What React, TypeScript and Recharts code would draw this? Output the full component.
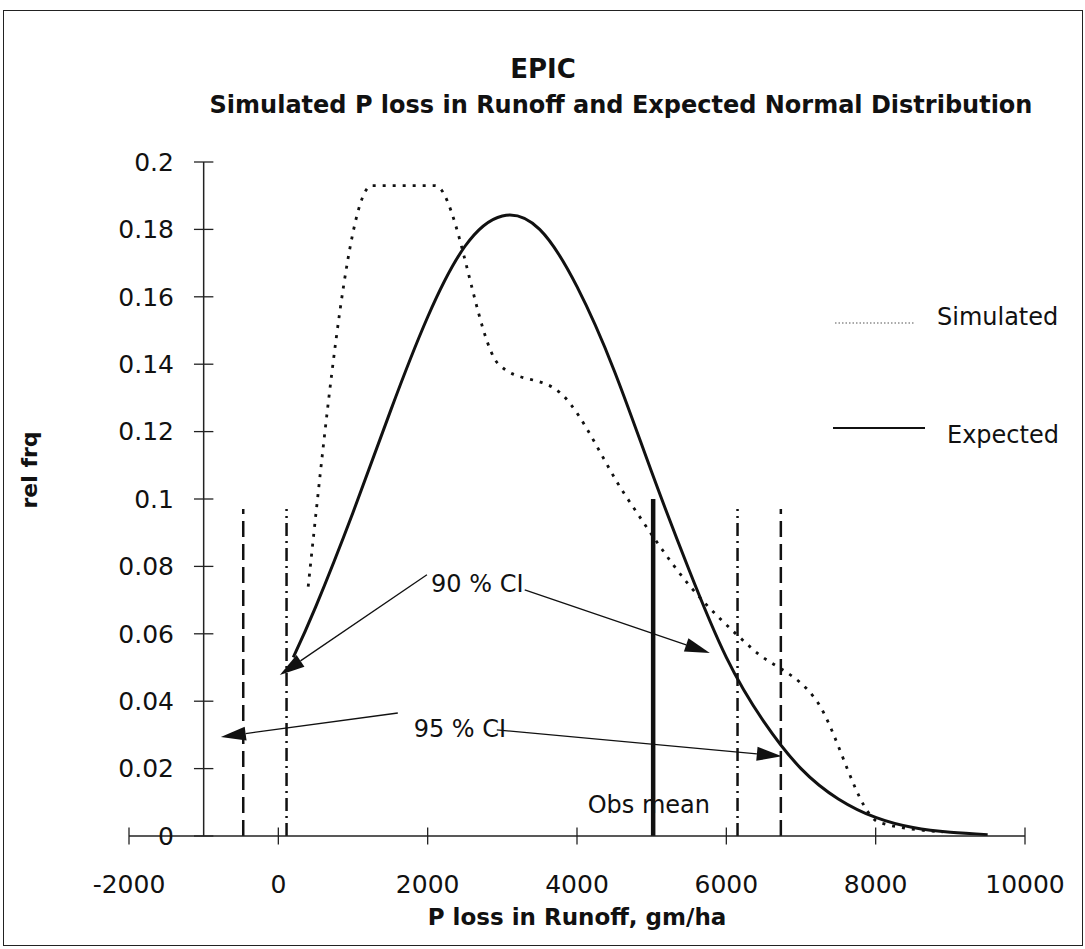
import React from "react";
import { ComposedChart, Line, XAxis, YAxis, ReferenceLine, ReferenceDot, Legend } from "recharts";

const FONT = "'DejaVu Sans', Verdana, sans-serif";
const INK = "#111";

// simulated P loss frequencies (class midpoints)
const simX = [400, 1250, 2100, 2950, 3800, 4650, 5500, 6350, 7200, 8050, 8900];
const simY = [0.074, 0.193, 0.193, 0.14, 0.131, 0.101, 0.0745, 0.0555, 0.0404, 0.004, 0.0012];

// expected normal curve
const expX = [200, 500, 1000, 1500, 2000, 2500, 3000, 3500, 4000, 4500, 5000, 5500, 6000, 6500, 7000, 7500, 8000, 8500, 9000, 9500];
const expY = [0.053, 0.068, 0.096, 0.126, 0.154, 0.175, 0.184, 0.18, 0.163, 0.138, 0.108, 0.079, 0.053, 0.034, 0.02, 0.011, 0.0055, 0.0025, 0.0011, 0.0004];

const xTicks = [-2000, 0, 2000, 4000, 6000, 8000, 10000];
const yTicks = [0, 0.02, 0.04, 0.06, 0.08, 0.1, 0.12, 0.14, 0.16, 0.18, 0.2];
const yTickLabels = ["0", "0.02", "0.04", "0.06", "0.08", "0.1", "0.12", "0.14", "0.16", "0.18", "0.2"];
const yAxisX = -1000;

// confidence interval bounds + observed mean
const ciX = [-470, 110, 6150, 6730];
const ciKind = ["dashed", "dashdot", "dashdot", "dashed"];
const ciTop = 0.097;
const obsMeanX = 5020;
const obsMeanTop = 0.1;

// annotation arrows (from -> tip)
const arrowFrom = [[1990, 0.0775], [3300, 0.073], [1600, 0.0365], [2926, 0.0315]];
const arrowTo = [[20, 0.0478], [5779, 0.0543], [-770, 0.0294], [6743, 0.0237]];

const noteText = ["90 % CI", "95 % CI", "Obs mean"];
const noteX = [2665, 2431, 4962];
const noteY = [0.075, 0.032, 0.0095];

const simData = simX.map((x, i) => ({ x, y: simY[i] }));
const expData = expX.map((x, i) => ({ x, y: expY[i] }));

const Arrow = (p: any) => {
  const { x1, y1, x2, y2 } = p;
  const a = Math.atan2(y2 - y1, x2 - x1);
  const len = 25;
  const half = 7;
  const bx = x2 - len * Math.cos(a);
  const by = y2 - len * Math.sin(a);
  const px = -Math.sin(a) * half;
  const py = Math.cos(a) * half;
  return (
    <g>
      <line x1={x1} y1={y1} x2={bx} y2={by} stroke={INK} strokeWidth={1.3} />
      <polygon points={`${x2},${y2} ${bx + px},${by + py} ${bx - px},${by - py}`} fill={INK} />
    </g>
  );
};

const YLabel = (p: any) => {
  const vb = p.viewBox;
  const x = vb.x;
  const y = vb.y + vb.height / 2 - 29;
  return (
    <text x={x} y={y} transform={`rotate(-90, ${x}, ${y})`} textAnchor="middle" dominantBaseline="central"
      fontFamily={FONT} fontSize={22} fontWeight="bold" fill={INK}>
      rel frq
    </text>
  );
};

const renderLegend = () => (
  <div style={{ position: "relative", width: 255, height: 170, fontFamily: FONT, fontSize: 24, color: INK }}>
    <svg width={100} height={170} style={{ position: "absolute", left: 0, top: 0 }}>
      <line x1={5} y1={33} x2={85} y2={33} stroke="#555" strokeWidth={1.2} strokeDasharray="1.5 2" />
      <line x1={3} y1={138} x2={95} y2={138} stroke={INK} strokeWidth={2} />
    </svg>
    <div style={{ position: "absolute", left: 107, top: 27, transform: "translateY(-50%)", lineHeight: 1, whiteSpace: "nowrap" }}>Simulated</div>
    <div style={{ position: "absolute", left: 117, top: 145, transform: "translateY(-50%)", lineHeight: 1, whiteSpace: "nowrap" }}>Expected</div>
  </div>
);

const centered = (left: number, top: number): React.CSSProperties => ({
  position: "absolute", left, top, transform: "translate(-50%, -50%)", whiteSpace: "nowrap", lineHeight: 1,
  fontFamily: FONT, fontWeight: "bold", color: INK,
});

export default function App() {
  return (
    <div style={{ position: "absolute", left: 0, top: 0, width: 1085, height: 949, background: "#fff" }}>
      <div style={{ position: "absolute", left: 3, top: 10, width: 1080, height: 936, border: "1.5px solid #222", boxSizing: "border-box" }} />
      <div style={{ ...centered(543, 69), fontSize: 26 }}>EPIC</div>
      <div style={{ ...centered(621, 105), fontSize: 24 }}>Simulated P loss in Runoff and Expected Normal Distribution</div>
      <div style={{ position: "absolute", left: 0, top: 0 }}>
        <ComposedChart width={1085} height={949} margin={{ top: 162, right: 60, bottom: 73, left: 29 }}>
          <XAxis type="number" dataKey="x" domain={[-2000, 10000]} ticks={xTicks} allowDataOverflow
            tickLine={false} tickSize={0} tickMargin={39} height={40}
            axisLine={{ stroke: "#222", strokeWidth: 1.5 }}
            tick={{ fill: INK, fontSize: 25, fontFamily: FONT }}
            label={{ value: "P loss in Runoff, gm/ha", position: "bottom", offset: 33, fill: INK, fontSize: 23, fontFamily: FONT, fontWeight: "bold" }} />
          <YAxis type="number" domain={[0, 0.2]} width={100} axisLine={false} tickLine={false} tick={false}
            allowDataOverflow label={{ content: YLabel }} />
          <Legend layout="horizontal" verticalAlign="middle" align="center" content={renderLegend}
            wrapperStyle={{ left: 830, top: 290, width: 255, height: 170 }} />

          <Line data={simData} dataKey="y" name="Simulated" type="monotone" stroke={INK} strokeWidth={2.8}
            strokeDasharray="3 7" dot={false} activeDot={false} isAnimationActive={false} />
          <Line data={expData} dataKey="y" name="Expected" type="natural" stroke={INK} strokeWidth={3}
            dot={false} activeDot={false} isAnimationActive={false} />

          {/* y axis drawn at x = -1000 */}
          <ReferenceLine segment={[{ x: yAxisX, y: 0 }, { x: yAxisX, y: 0.2 }]} stroke="#222" strokeWidth={1.5} ifOverflow="visible" />
          {yTicks.map((v, i) => (
            <ReferenceLine key={`yt${i}`} segment={[{ x: yAxisX - 130, y: v }, { x: yAxisX + 130, y: v }]}
              stroke="#222" strokeWidth={1.3} ifOverflow="visible"
              label={{ value: yTickLabels[i], position: "left", offset: 20, fill: INK, fontSize: 25, fontFamily: FONT }} />
          ))}
          {xTicks.map((t) => (
            <ReferenceLine key={`xt${t}`} segment={[{ x: t, y: -0.0025 }, { x: t, y: 0.0025 }]}
              stroke="#222" strokeWidth={1.3} ifOverflow="visible" />
          ))}

          {ciX.map((x, i) => (
            <ReferenceLine key={`ci${i}`} segment={[{ x, y: 0 }, { x, y: ciTop }]} stroke={INK} strokeWidth={2.5}
              strokeDasharray={ciKind[i] === "dashed" ? "16 7" : "13 5 2 5"} ifOverflow="visible" />
          ))}
          <ReferenceLine segment={[{ x: obsMeanX, y: 0 }, { x: obsMeanX, y: obsMeanTop }]} stroke={INK} strokeWidth={4.5} ifOverflow="visible" />

          {arrowFrom.map((f, i) => (
            <ReferenceLine key={`ar${i}`} segment={[{ x: f[0], y: f[1] }, { x: arrowTo[i][0], y: arrowTo[i][1] }]}
              shape={Arrow} ifOverflow="visible" />
          ))}
          {noteText.map((t, i) => (
            <ReferenceDot key={`n${i}`} x={noteX[i]} y={noteY[i]} r={0} fill="none" stroke="none" ifOverflow="visible"
              label={{ value: t, position: "center", fill: INK, fontSize: 24, fontFamily: FONT }} />
          ))}
        </ComposedChart>
      </div>
    </div>
  );
}
